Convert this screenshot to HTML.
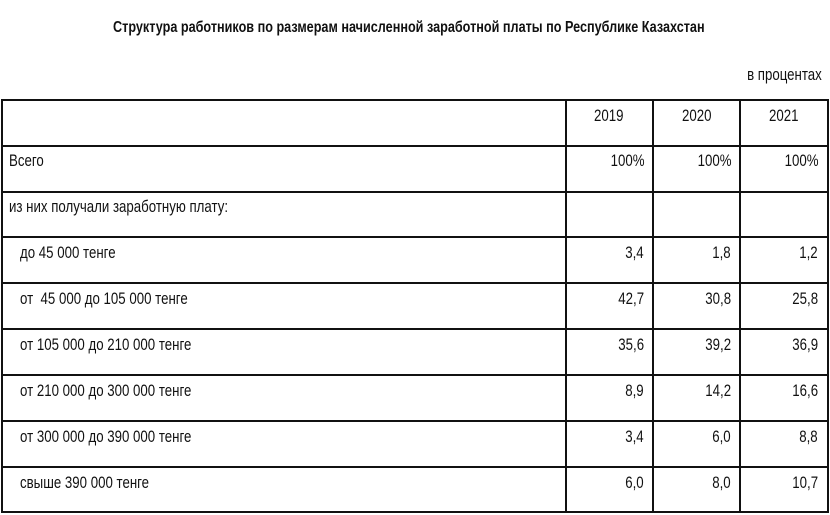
<!DOCTYPE html>
<html><head><meta charset="utf-8"><style>
body{margin:0;width:830px;height:515px;background:#fff;position:relative;overflow:hidden;font-family:"Liberation Sans",sans-serif;color:#111}
.h{position:absolute;left:1px;width:828px;height:2px;background:#111}
.v{position:absolute;top:99px;width:2px;height:413px;background:#111}
.t{position:absolute;font-size:17px;line-height:20px;white-space:nowrap;transform:scaleX(0.78);transform-origin:left center}
.r{transform-origin:right center}
</style></head><body>
<div class="t" style="left:113px;top:18px;font-weight:bold;font-size:16px;transform:scaleX(0.79)">Структура работников по размерам начисленной заработной платы по Республике Казахстан</div>
<div class="t r" style="right:8px;top:65px">в процентах</div>
<div class="h" style="top:99px"></div>
<div class="h" style="top:145px"></div>
<div class="h" style="top:191px"></div>
<div class="h" style="top:236px"></div>
<div class="h" style="top:282px"></div>
<div class="h" style="top:328px"></div>
<div class="h" style="top:374px"></div>
<div class="h" style="top:420px"></div>
<div class="h" style="top:466px"></div>
<div class="h" style="top:511px"></div>
<div class="v" style="left:1px"></div>
<div class="v" style="left:565px"></div>
<div class="v" style="left:652px"></div>
<div class="v" style="left:739px"></div>
<div class="v" style="left:827px"></div>

<div class="t" style="left:594px;top:106px">2019</div>
<div class="t" style="left:682px;top:106px">2020</div>
<div class="t" style="left:769px;top:106px">2021</div>

<div class="t" style="left:9px;top:151px">Всего</div>
<div class="t" style="left:9px;top:197px">из них получали заработную плату:</div>
<div class="t" style="left:20px;top:243px">до 45 000 тенге</div>
<div class="t" style="left:20px;top:289px">от &nbsp;45 000 до 105 000 тенге</div>
<div class="t" style="left:20px;top:335px">от 105 000 до 210 000 тенге</div>
<div class="t" style="left:20px;top:381px">от 210 000 до 300 000 тенге</div>
<div class="t" style="left:20px;top:427px">от 300 000 до 390 000 тенге</div>
<div class="t" style="left:20px;top:473px">свыше 390 000 тенге</div>

<div class="t r" style="right:186px;top:151px">100%</div>
<div class="t r" style="right:99px;top:151px">100%</div>
<div class="t r" style="right:12px;top:151px">100%</div>

<div class="t r" style="right:186px;top:243px">3,4</div>
<div class="t r" style="right:99px;top:243px">1,8</div>
<div class="t r" style="right:12px;top:243px">1,2</div>
<div class="t r" style="right:186px;top:289px">42,7</div>
<div class="t r" style="right:99px;top:289px">30,8</div>
<div class="t r" style="right:12px;top:289px">25,8</div>
<div class="t r" style="right:186px;top:335px">35,6</div>
<div class="t r" style="right:99px;top:335px">39,2</div>
<div class="t r" style="right:12px;top:335px">36,9</div>
<div class="t r" style="right:186px;top:381px">8,9</div>
<div class="t r" style="right:99px;top:381px">14,2</div>
<div class="t r" style="right:12px;top:381px">16,6</div>
<div class="t r" style="right:186px;top:427px">3,4</div>
<div class="t r" style="right:99px;top:427px">6,0</div>
<div class="t r" style="right:12px;top:427px">8,8</div>
<div class="t r" style="right:186px;top:473px">6,0</div>
<div class="t r" style="right:99px;top:473px">8,0</div>
<div class="t r" style="right:12px;top:473px">10,7</div>
</body></html>
